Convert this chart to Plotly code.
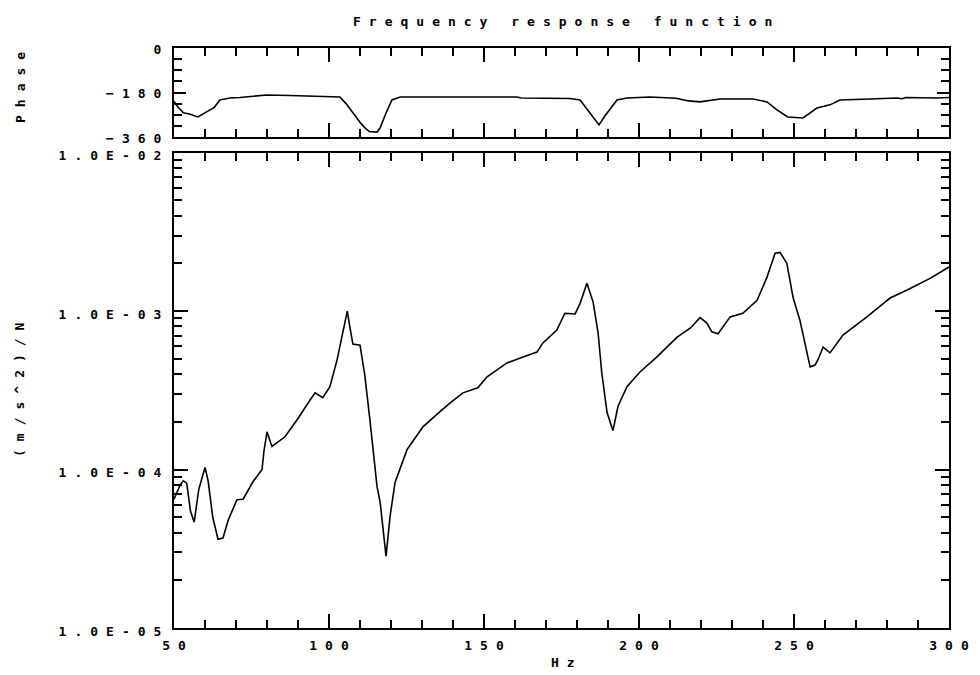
import plotly.graph_objects as go

# ---- data ----
freq_mag = [50.0, 51.0, 52.0, 53.0, 54.1, 55.3, 56.5, 58.0, 60.0, 61.0, 62.5, 64.2, 65.8, 67.5,
            70.3, 72.3, 75.5, 78.4, 79.0, 80.0, 81.6, 85.8, 90.0, 93.9, 95.5, 98.0, 100.3, 102.6,
            104.5, 105.9, 106.8, 107.7, 110.0, 111.5, 113.2, 115.5, 116.5, 118.4, 119.7, 121.3,
            125.2, 130.3, 135.8, 139.0, 143.2, 148.0, 151.0, 157.4, 162.6, 167.1, 169.0, 173.5,
            176.1, 179.4, 181.0, 183.2, 185.2, 186.8, 188.0, 189.7, 191.6, 193.2, 196.1, 200.3,
            205.8, 212.3, 216.5, 219.7, 221.9, 223.5, 225.5, 229.4, 233.5, 238.1, 241.3, 243.9,
            245.5, 247.7, 249.7, 251.9, 255.2, 256.8, 257.7, 259.4, 261.6, 265.8, 273.5, 281.0,
            286.5, 293.9, 300.0]
magnitude = [6.5e-5, 7.2e-5, 8.0e-5, 8.5e-5, 8.2e-5, 5.5e-5, 4.65e-5, 7.5e-5, 1.03e-4, 8.5e-5,
             5.0e-5, 3.63e-5, 3.7e-5, 4.8e-5, 6.45e-5, 6.5e-5, 8.4e-5, 1.0e-4, 1.3e-4, 1.73e-4,
             1.4e-4, 1.61e-4, 2.1e-4, 2.75e-4, 3.05e-4, 2.84e-4, 3.33e-4, 4.92e-4, 7.6e-4, 1.0e-3,
             7.8e-4, 6.2e-4, 6.1e-4, 4.0e-4, 2.06e-4, 7.8e-5, 6.2e-5, 2.84e-5, 5.06e-5, 8.3e-5,
             1.34e-4, 1.86e-4, 2.32e-4, 2.63e-4, 3.05e-4, 3.28e-4, 3.85e-4, 4.71e-4, 5.14e-4,
             5.52e-4, 6.3e-4, 7.6e-4, 9.7e-4, 9.6e-4, 1.12e-3, 1.5e-3, 1.14e-3, 7.3e-4, 4.07e-4,
             2.29e-4, 1.76e-4, 2.5e-4, 3.33e-4, 4.13e-4, 5.14e-4, 6.86e-4, 7.8e-4, 9.1e-4, 8.4e-4,
             7.4e-4, 7.2e-4, 9.2e-4, 9.7e-4, 1.17e-3, 1.64e-3, 2.32e-3, 2.35e-3, 2.0e-3, 1.22e-3,
             8.77e-4, 4.45e-4, 4.57e-4, 4.92e-4, 5.94e-4, 5.45e-4, 7.06e-4, 9.2e-4, 1.21e-3,
             1.36e-3, 1.61e-3, 1.9e-3]

freq_phase = [50.0, 51.0, 53.0, 55.0, 57.7, 60.0, 61.6, 63.0, 64.8, 68.0, 71.3, 75.0, 80.0, 87.4,
              94.0, 100.0, 103.5, 105.5, 107.7, 110.0, 111.6, 113.0, 115.5, 116.5, 118.5, 120.3,
              123.0, 148.7, 160.6, 162.0, 168.0, 177.7, 181.0, 183.5, 185.5, 187.1, 189.0, 191.3,
              192.9, 196.1, 203.5, 212.0, 216.0, 219.7, 226.1, 236.8, 241.3, 244.5, 248.0, 252.9,
              257.4, 261.6, 264.8, 274.5, 283.2, 285.0, 286.0, 296.1, 300.0]
phase = [-215, -235, -262, -267, -279, -262, -252, -240, -210, -202, -200, -196, -190, -192,
         -195, -197, -198, -225, -263, -300, -323, -338, -340, -323, -260, -210, -198, -198,
         -198, -202, -202, -204, -210, -251, -285, -311, -275, -238, -210, -202, -198, -203,
         -214, -218, -206, -206, -218, -250, -279, -283, -243, -230, -210, -206, -202, -205,
         -200, -202, -200]

x_ticks = [50, 100, 150, 200, 250, 300]
x_minor = [v for v in range(50, 301, 10) if v % 50 != 0]
mag_ticks = [1e-5, 1e-4, 1e-3, 1e-2]
mag_ticktext = ["1.0E-05", "1.0E-04", "1.0E-03", "1.0E-02"]
mag_minor = [m * 10 ** e for e in (-5, -4, -3) for m in range(2, 10)]
phase_ticks = [0, -180, -360]
phase_minor = [-45, -90, -135, -225, -270, -315]

FONT = "DejaVu Sans Mono"
FS = 13
LS = 8   # letter spacing (px) imitating the plotter font
# page has an 8px body margin: figure drawn at (8, 8)
W, H = 972, 667
ml, mr, mt, mb = 166, 31, 40, 47
PX0, PX1, PY0, PY1 = 174, 949, 48, 628   # plot area in page pixels


def px(xp):
    return (xp - PX0) / (PX1 - PX0)


def py(yp):
    return (PY1 - yp) / (PY1 - PY0)


tfont = dict(family=FONT, size=FS, color="black", weight="bold")

fig = go.Figure()
fig.add_trace(go.Scatter(x=freq_mag, y=magnitude, mode="lines",
                         line=dict(color="black", width=1.6), xaxis="x", yaxis="y",
                         showlegend=False))
fig.add_trace(go.Scatter(x=freq_phase, y=phase, mode="lines",
                         line=dict(color="black", width=1.6), xaxis="x2", yaxis="y2",
                         showlegend=False))

axis_common = dict(showline=True, linecolor="black", linewidth=2, mirror="ticks",
                   showgrid=False, zeroline=False, ticks="inside", tickcolor="black",
                   tickwidth=2, tickfont=tfont)
minor_common = dict(tickmode="array", ticks="inside", ticklen=8, tickcolor="black", tickwidth=2)

fig.update_layout(
    width=W, height=H,
    margin=dict(l=ml, r=mr, t=mt, b=mb),
    paper_bgcolor="white", plot_bgcolor="white",
    xaxis=dict(axis_common, range=[50, 300], domain=[0, 1], anchor="y",
               tickmode="array", tickvals=x_ticks, ticklen=14,
               ticklabelshift=LS // 2, ticklabelstandoff=4,
               minor=dict(minor_common, tickvals=x_minor)),
    yaxis=dict(axis_common, type="log", range=[-5, -2], domain=[0, py(152.7)], anchor="x",
               tickmode="array", tickvals=mag_ticks, ticktext=mag_ticktext, ticklen=14,
               ticklabelshift=3,
               minor=dict(minor_common, tickvals=mag_minor)),
    xaxis2=dict(axis_common, range=[50, 300], domain=[0, 1], anchor="y2",
                showticklabels=False, tickmode="array", tickvals=x_ticks, ticklen=14,
                minor=dict(minor_common, tickvals=x_minor)),
    yaxis2=dict(axis_common, range=[-360, 0], domain=[py(137), 1], anchor="x2",
                tickmode="array", tickvals=phase_ticks, ticklen=12,
                ticklabelshift=1,
                minor=dict(minor_common, tickvals=phase_minor)),
    annotations=[
        dict(text="Frequency response function", xref="paper", yref="paper",
             x=px(562 + LS / 2), y=py(21), xanchor="center", yanchor="middle",
             showarrow=False, font=tfont),
        dict(text="Hz", xref="paper", yref="paper",
             x=px(563 + LS / 2), y=py(662), xanchor="center", yanchor="middle",
             showarrow=False, font=tfont),
        dict(text="Phase", xref="paper", yref="paper",
             x=px(20), y=py(88 - LS / 2), textangle=-90,
             xanchor="center", yanchor="middle", showarrow=False, font=tfont),
        dict(text="(m/s^2)/N", xref="paper", yref="paper",
             x=px(20), y=py(390 - LS / 2), textangle=-90,
             xanchor="center", yanchor="middle", showarrow=False, font=tfont),
    ],
)

# the reference uses a widely letter-spaced plotter font
spacing_js = """
document.querySelectorAll('.main-svg text').forEach(function(t){
  t.style.letterSpacing = '%spx';
});
""" % LS

fig.write_html("out.html", post_script=spacing_js)
